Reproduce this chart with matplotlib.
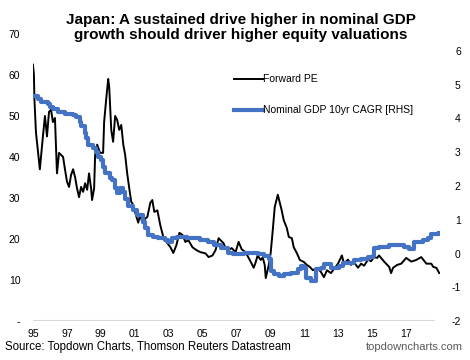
import matplotlib
matplotlib.use("Agg")
import matplotlib.pyplot as plt
from matplotlib.lines import Line2D

plt.rcParams['font.family'] = ['Liberation Sans', 'DejaVu Sans']

# Forward PE (left axis): decimal year, value
pe_years = [1995.00, 1995.06, 1995.09, 1995.18, 1995.41, 1995.59, 1995.71, 1995.83, 1995.95,
            1996.07, 1996.18, 1996.30, 1996.36, 1996.42, 1996.54, 1996.66, 1996.78, 1996.89,
            1997.01, 1997.13, 1997.25, 1997.37, 1997.49, 1997.60, 1997.72, 1997.84, 1997.96,
            1998.08, 1998.20, 1998.31, 1998.43, 1998.49, 1998.61, 1998.67, 1998.79, 1998.96,
            1999.14, 1999.20, 1999.32, 1999.44, 1999.50, 1999.62, 1999.73, 1999.85, 1999.97,
            2000.09, 2000.21, 2000.33, 2000.44, 2000.56, 2000.68, 2000.80, 2000.86, 2001.04,
            2001.21, 2001.33, 2001.45, 2001.63, 2001.75, 2001.92, 2002.04, 2002.16, 2002.34,
            2002.51, 2002.69, 2002.87, 2003.11, 2003.28, 2003.46, 2003.64, 2003.82, 2003.99,
            2004.17, 2004.41, 2004.64, 2004.88, 2005.18, 2005.36, 2005.59, 2005.77, 2005.95,
            2006.07, 2006.24, 2006.36, 2006.54, 2006.72, 2006.95, 2007.13, 2007.31, 2007.54,
            2007.72, 2007.90, 2008.02, 2008.14, 2008.25, 2008.43, 2008.55, 2008.67, 2008.73,
            2008.91, 2009.02, 2009.14, 2009.26, 2009.44, 2009.56, 2009.67, 2009.79, 2009.97,
            2010.09, 2010.27, 2010.38, 2010.56, 2010.74, 2010.98, 2011.15, 2011.33, 2011.51,
            2011.75, 2011.98, 2012.16, 2012.34, 2012.57, 2012.81, 2012.99, 2013.22, 2013.34,
            2013.58, 2013.76, 2013.93, 2014.17, 2014.35, 2014.53, 2014.76, 2014.94, 2015.12,
            2015.30, 2015.41, 2015.71, 2016.01, 2016.12, 2016.24, 2016.48, 2016.72, 2017.01,
            2017.31, 2017.60, 2017.90, 2018.20, 2018.49, 2018.61, 2018.79, 2018.96]
pe_values = [62.5, 60, 54, 46, 37, 45, 50, 45, 51,
             51.5, 48.5, 49.5, 43, 36, 41, 40.5, 40, 37,
             34, 32.7, 35.6, 37, 35, 32.4, 30.2, 32.7, 31.5,
             33.6, 32, 36, 32.4, 29.5, 32.4, 40.5, 43, 41,
             41, 48.5, 54, 59, 57, 46.6, 43.7, 50, 49,
             46.6, 47.8, 43, 40.5, 36, 32.4, 29, 28.8, 26.3,
             24, 26, 24, 25, 25.4, 28.8, 29.5, 26.6, 27,
             23.4, 20.5, 19.3, 18, 16.6, 18.5, 21.5, 21, 19.3,
             19.7, 18, 17.3, 16.8, 16.5, 15.6, 16, 17.3, 20.2,
             19.7, 19, 17.8, 17.3, 17.8, 16.8, 19.3, 17.5, 16.8,
             15.4, 14, 13, 14.4, 16, 14.9, 15.5, 13.7, 10.5,
             13.7, 16.6, 22, 27.8, 30.8, 28.8, 27, 24.6, 22.7,
             20.5, 20.2, 18, 16.6, 14.9, 14.4, 13.7, 13.2, 12.4,
             13, 12, 10.7, 12.4, 11.7, 13, 14, 16, 14,
             15, 13.7, 14.4, 13, 14, 13.5, 15, 14.6, 15.6,
             15.4, 16, 14.5, 13.2, 11.7, 13, 13.7, 14, 15.4,
             14.5, 14.9, 15.6, 14, 14, 13.2, 13, 11.7]

# Nominal GDP 10yr CAGR (right axis), step series
gdp_years = [1995.00, 1995.30, 1995.47, 1995.89, 1996.01, 1996.18, 1996.48, 1996.66, 1996.89,
             1997.37, 1997.54, 1997.78, 1997.84, 1998.08, 1998.14, 1998.25, 1998.55, 1998.73,
             1998.85, 1999.02, 1999.14, 1999.26, 1999.56, 1999.67, 1999.85, 1999.97, 2000.15,
             2000.33, 2000.44, 2000.62, 2000.92, 2001.15, 2001.51, 2001.63, 2001.80, 2002.10,
             2002.40, 2002.81, 2002.99, 2003.22, 2003.52, 2004.11, 2004.88, 2005.30, 2005.65,
             2006.07, 2006.48, 2006.78, 2007.43, 2008.25, 2008.61, 2008.91, 2009.02, 2009.20,
             2009.50, 2009.79, 2010.21, 2010.62, 2010.80, 2010.98, 2011.09, 2011.39, 2011.69,
             2011.98, 2012.16, 2012.57, 2013.05, 2013.28, 2013.93, 2014.35, 2014.76, 2015.06,
             2015.12, 2015.41, 2016.01, 2016.89, 2017.19, 2017.49, 2018.02, 2018.31, 2018.49,
             2018.96]
gdp_values = [4.66, 4.57, 4.48, 4.42, 4.33, 4.27, 4.20, 4.18, 4.12,
              4.09, 4.03, 3.88, 3.76, 3.58, 3.43, 3.22, 3.13, 3.00,
              2.87, 2.78, 2.57, 2.39, 2.24, 2.18, 1.94, 1.79, 1.94,
              1.82, 1.62, 1.40, 1.28, 1.13, 0.93, 0.75, 0.54, 0.48,
              0.45, 0.39, 0.33, 0.45, 0.48, 0.45, 0.39, 0.33, 0.24,
              0.15, 0.03, 0.00, 0.03, 0.00, -0.06, -0.15, -0.51, -0.60,
              -0.66, -0.60, -0.57, -0.45, -0.36, -0.42, -0.72, -0.81, -0.45,
              -0.42, -0.30, -0.42, -0.36, -0.27, -0.18, -0.15, -0.09, -0.06,
              0.15, 0.18, 0.24, 0.18, 0.12, 0.33, 0.39, 0.45, 0.57,
              0.60]

x_ticks = list(range(1995, 2019, 2))
x_labels = ['95', '97', '99', '01', '03', '05', '07', '09', '11', '13', '15', '17']
left_ticks = [0, 10, 20, 30, 40, 50, 60, 70]
left_labels = ['-', '10', '20', '30', '40', '50', '60', '70']
right_ticks = [-2, -1, 0, 1, 2, 3, 4, 5, 6]

blue = '#4472C4'

fig = plt.figure(figsize=(4.7, 3.6), dpi=100)
ax = fig.add_axes([0.070, 0.108, 0.866, 0.798])
ax2 = ax.twinx()

ax.plot(pe_years, pe_values, color='black', lw=1.4, label='Forward PE')
ax2.plot(gdp_years, gdp_values, color=blue, lw=3, drawstyle='steps-post',
         label='Nominal GDP 10yr CAGR [RHS]')

ax.set_xlim(1995, 2019)
ax.set_ylim(0, 70)
ax2.set_ylim(-2, 6.5)
ax.axhline(0, color='#d9d9d9', lw=1.5, xmax=0.985, zorder=0)

ax.set_xticks(x_ticks)
ax.set_xticklabels(x_labels)
ax.set_yticks(left_ticks)
ax.set_yticklabels(left_labels)
ax2.set_yticks(right_ticks)
ax2.set_yticklabels([str(v) for v in right_ticks])

for a in (ax, ax2):
    for s in a.spines.values():
        s.set_visible(False)
ax.tick_params(axis='both', length=0, labelsize=7.5, colors='black')
ax.tick_params(axis='y', pad=9)
ax.tick_params(axis='x', pad=6)
ax2.tick_params(axis='y', length=0, labelsize=7.5, pad=15)
for lab in ax2.get_yticklabels():
    lab.set_horizontalalignment('right')

handles = [Line2D([], [], color='black', lw=1.4), Line2D([], [], color=blue, lw=3)]
fig.legend(handles, ['Forward PE', 'Nominal GDP 10yr CAGR [RHS]'],
           loc='upper left', bbox_to_anchor=(0.49, 0.805), frameon=False,
           fontsize=7.5, handlelength=2.7, handletextpad=0.05, labelspacing=2.0,
           borderaxespad=0)

fig.text(0.513, 0.965, 'Japan: A sustained drive higher in nominal GDP\n'
         'growth should driver higher equity valuations',
         ha='center', va='top', fontsize=11, fontweight='bold', linespacing=1.15)
fig.text(0.01, 0.035, 'Source: Topdown Charts, Thomson Reuters Datastream',
         ha='left', va='center', fontsize=8.3)
fig.text(0.985, 0.035, 'topdowncharts.com', ha='right', va='center',
         fontsize=8, color='#595959')

fig.savefig('out.png', dpi=100)
